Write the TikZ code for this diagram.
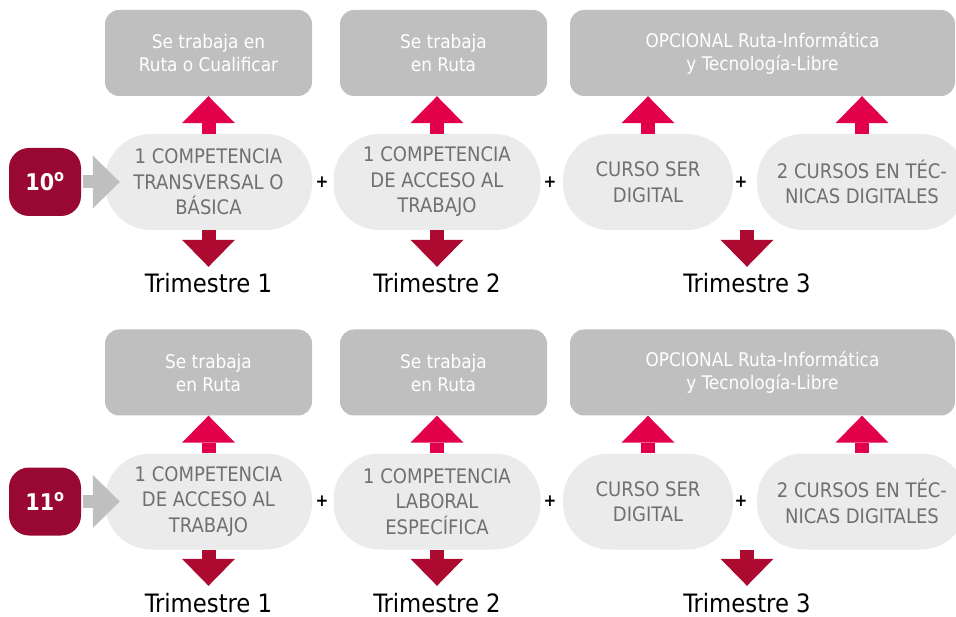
\documentclass[tikz,border=0pt]{standalone}
\usepackage{fontspec}
\setmainfont{DejaVu Sans Condensed}
\usetikzlibrary{arrows.meta}
\definecolor{cajagris}{RGB}{191,191,191}
\definecolor{pilgris}{RGB}{235,235,235}
\definecolor{letragris}{RGB}{112,112,112}
\definecolor{rojoclaro}{RGB}{226,0,75}
\definecolor{rojooscuro}{RGB}{173,10,49}
\definecolor{granate}{RGB}{153,8,50}

\begin{document}
\begin{tikzpicture}[x=1pt,y=-1pt,
	caja/.style={fill=cajagris,rounded corners=14pt,inner sep=0pt,minimum height=86pt,text=white,align=center,font=\fontsize{18.8}{23}\selectfont},
	pildora/.style={fill=pilgris,rounded corners=46pt,inner sep=0pt,minimum height=96pt,text=letragris,align=center,font=\fontsize{20}{25.5}\selectfont},
	nivel/.style={fill=granate,rounded corners=20pt,inner sep=0pt,minimum width=72pt,minimum height=68pt,text=white,font=\fontsize{23}{23}\selectfont\bfseries},
	trim/.style={inner sep=0pt,text height=18pt,text depth=0pt,font=\fontsize{25.3}{25.3}\selectfont},
	mas/.style={inner sep=0pt,font=\fontsize{17}{17}\selectfont\bfseries},
	subir/.style={draw=rojoclaro,line width=14pt,-{Triangle[width=53pt,length=27pt,line width=0pt]}},
	bajar/.style={draw=rojooscuro,line width=14pt,shorten >=8pt,-{Triangle[width=53pt,length=27pt,line width=0pt]}},
	entrar/.style={draw=cajagris,line width=13pt,shorten <=2pt,shorten >=-15pt,-{Triangle[width=53pt,length=27pt,line width=0pt]}}]
	
	\useasboundingbox (0,0) rectangle (956,617);
	
	% grado 10
	\node[caja,minimum width=207pt] (ga1) at (208.5,53) {Se trabaja en\\Ruta o Cualificar};
	\node[caja,minimum width=207pt] (ga2) at (443.5,53) {Se trabaja\\en Ruta};
	\node[caja,minimum width=385pt] (ga3) at (762.5,53) {OPCIONAL Ruta-Informática\\y Tecnología-Libre};
	
	\node[pildora,minimum width=207pt] (pa1) at (208.5,182) {1 COMPETENCIA\\TRANSVERSAL O\\BÁSICA};
	\node[pildora,minimum width=207pt] (pa2) at (437,182) {1 COMPETENCIA\\DE ACCESO AL\\TRABAJO};
	\node[pildora,minimum width=170pt] (pa3) at (648,182) {CURSO SER\\DIGITAL};
	\node[pildora,minimum width=210pt] (pa4) at (862,182) {2 CURSOS EN TÉC-\\NICAS DIGITALES};
	
	\node[nivel] (na) at (45,182) {10\textsuperscript{o}};
	
	\node[trim] (ta1) at (208.5,284) {Trimestre 1};
	\node[trim] (ta2) at (437,284) {Trimestre 2};
	\node[trim] (ta3) at (747,284) {Trimestre 3};
	
	% grado 11
	\node[caja,minimum width=207pt] (gb1) at (208.5,372.5) {Se trabaja\\en Ruta};
	\node[caja,minimum width=207pt] (gb2) at (443.5,372.5) {Se trabaja\\en Ruta};
	\node[caja,minimum width=385pt] (gb3) at (762.5,372.5) {OPCIONAL Ruta-Informática\\y Tecnología-Libre};
	
	\node[pildora,minimum width=207pt] (pb1) at (208.5,501.5) {1 COMPETENCIA\\DE ACCESO AL\\TRABAJO};
	\node[pildora,minimum width=207pt] (pb2) at (437,501.5) {1 COMPETENCIA\\LABORAL\\ESPECÍFICA};
	\node[pildora,minimum width=170pt] (pb3) at (648,501.5) {CURSO SER\\DIGITAL};
	\node[pildora,minimum width=210pt] (pb4) at (862,501.5) {2 CURSOS EN TÉC-\\NICAS DIGITALES};
	
	\node[nivel] (nb) at (45,501.5) {11\textsuperscript{o}};
	
	\node[trim] (tb1) at (208.5,603) {Trimestre 1};
	\node[trim] (tb2) at (437,603) {Trimestre 2};
	\node[trim] (tb3) at (747,603) {Trimestre 3};
	
	\foreach \f/\yy in {a/182,b/501.5}
	{
		\node[mas] (m\f1) at (322,\yy) {+};
		\node[mas] (m\f2) at (550,\yy) {+};
		\node[mas] (m\f3) at (741,\yy) {+};
	}
	
	\foreach \f in {a,b}
	{
		\draw[entrar] (n\f) -- (p\f1);
		\draw[subir] (p\f1) -- (g\f1);
		\draw[subir] (p\f2) -- (g\f2.south -| p\f2);
		\draw[subir] (p\f3) -- (g\f3.south -| p\f3);
		\draw[subir] (p\f4) -- (g\f3.south -| p\f4);
		\draw[bajar] (p\f1) -- (t\f1);
		\draw[bajar] (p\f2) -- (t\f2);
		\draw[bajar] (t\f3.north |- p\f3.south) -- (t\f3);
	}
\end{tikzpicture}
\end{document}
